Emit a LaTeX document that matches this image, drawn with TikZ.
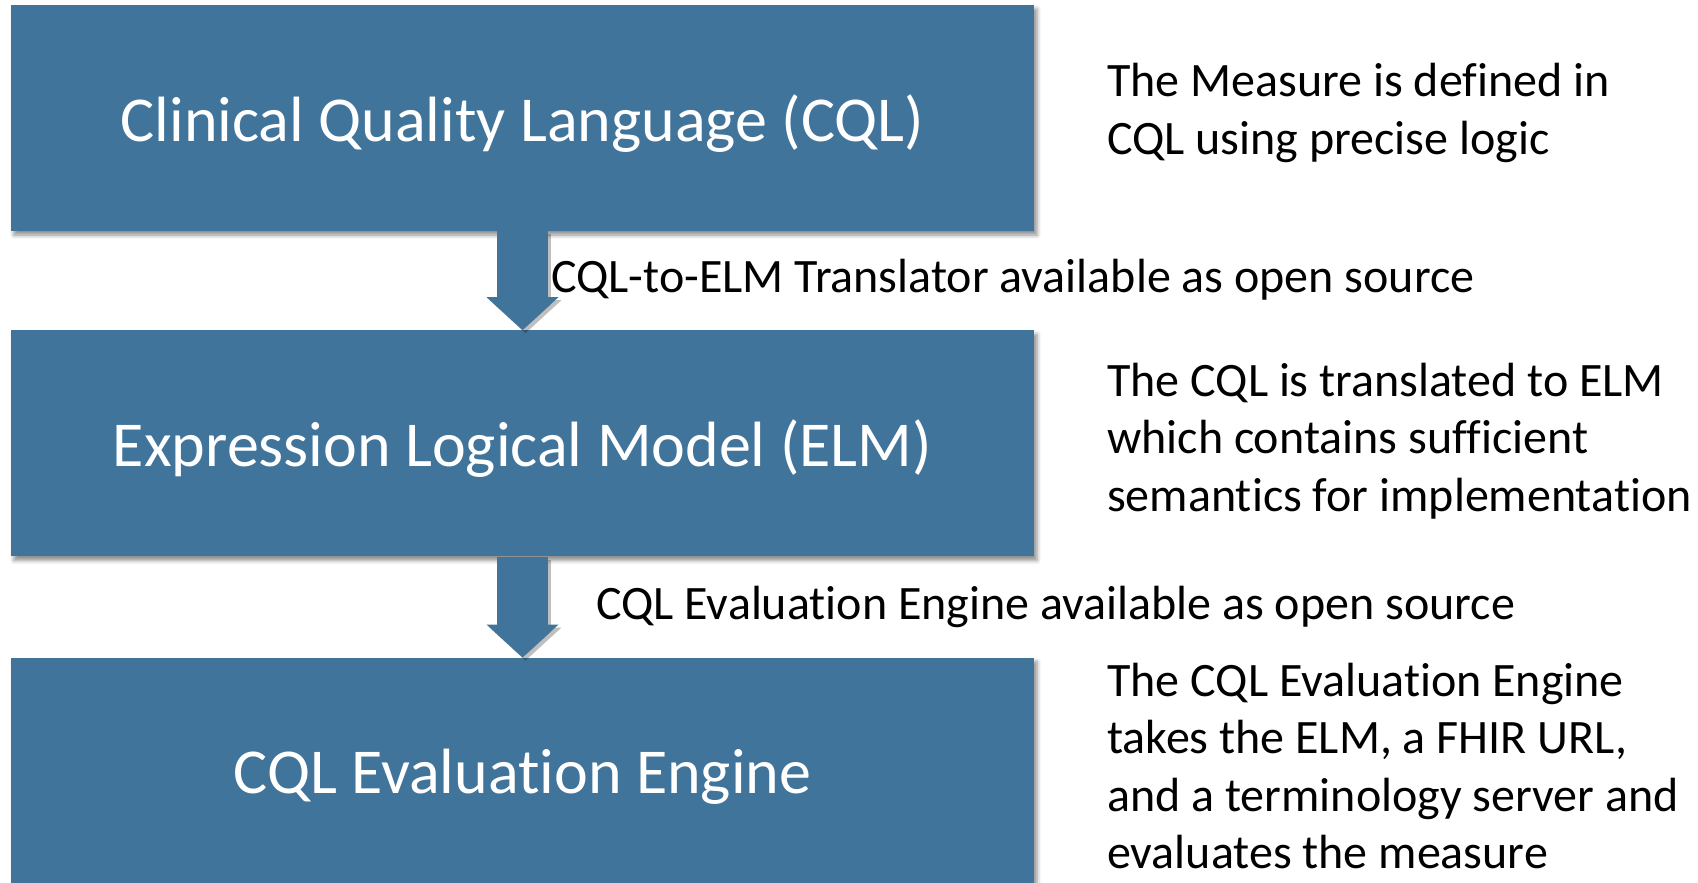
\documentclass[tikz,border=0pt]{standalone}
\usepackage{fontspec}
\setmainfont[Ligatures={NoCommon,NoRequired,NoContextual},Contextuals=NoAlternate,RawFeature=-ccmp]{Carlito}
\usetikzlibrary{positioning}
\usetikzlibrary{arrows.meta}
\usetikzlibrary{shadows.blur}

\definecolor{cqlblue}{RGB}{65,116,154}
\newcommand{\stagetext}[1]{\raisebox{-5.5pt}[\height][\depth]{#1}}

\begin{document}
\begin{tikzpicture}
[x=1pt,y=-1pt,%
  stage/.style={fill=cqlblue,text=white,inner sep=0pt,%
    minimum width=1023pt,minimum height=226pt,%
    font=\fontsize{64}{72}\selectfont,%
    blur shadow={shadow xshift=3pt,shadow yshift=-4pt,shadow blur radius=4pt,shadow opacity=45}},%
  flow/.style={draw=cqlblue,line width=51pt,-{Triangle[width=70pt,length=33pt]}},%
  flowshade/.style={draw=black,opacity=.25,line width=51pt,-{Triangle[width=70pt,length=33pt]},%
    transform canvas={shift={(3pt,-3pt)}}},%
  note/.style={inner sep=0pt,align=left,anchor=west,%
    font=\fontsize{48}{57.5}\selectfont}]
\useasboundingbox (0,0) rectangle (1698,883);
\node[stage] (cql) at (522.5,118) {\stagetext{Clinical Quality Language (CQL)}};
\node[stage,below=99pt of cql] (elm) {\stagetext{Expression Logical Model (ELM)}};
\node[stage,below=101pt of elm] (engine) {\stagetext{CQL Evaluation Engine}};
% connectors
\foreach \a/\b in {cql/elm,elm/engine}
{
  \draw[flowshade] (\a.south) -- (\b.north);
  \draw[flow] (\a.south) -- (\b.north);
}
% labels
\node[note] (translator) at (551,280) {CQL-to-ELM Translator available as open source};
\node[note] (evaluator) at (596,607) {CQL Evaluation Engine available as open source};
\node[note] (cqlnote) at (1107,113) {The Measure is defined in\\CQL using precise logic};
\node[note] (elmnote) at (1107,441) {The CQL is translated to ELM\\which contains sufficient\\semantics for implementation};
\node[note] (enginenote) at (1107,766) {The CQL Evaluation Engine\\takes the ELM, a FHIR URL,\\and a terminology server and\\evaluates the measure};
\end{tikzpicture}
\end{document}
